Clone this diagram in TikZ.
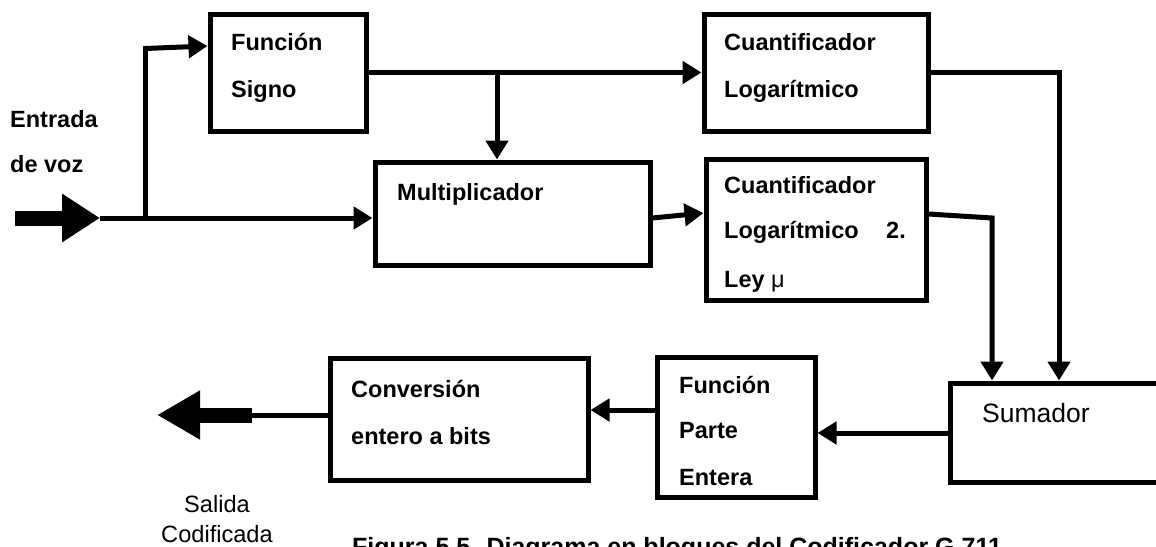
\documentclass[tikz,border=0pt]{standalone}
\usepackage{fontspec}
\setmainfont{Liberation Sans}
\usetikzlibrary{arrows.meta,calc}
\tikzset{
  box/.style={draw, line width=5pt, rectangle, inner sep=0pt},
  lbl/.style={anchor=base west, inner sep=0pt, font=\fontsize{23.5}{28}\selectfont\bfseries},
  plain/.style={anchor=base west, inner sep=0pt, font=\fontsize{26.5}{30}\selectfont},
  wire/.style={line width=5pt},
  arr/.style={wire, -{Triangle[length=19pt,width=22pt]}},
}
\begin{document}
\begin{tikzpicture}[x=1pt,y=-1pt]
\useasboundingbox (0,0) rectangle (1156,546);
\clip (0,0) rectangle (1156,546);
\fill[white] (0,0) rectangle (1156,546);

% blocks
\node[box, minimum width=156pt, minimum height=117pt] (fs)   at (288,72.5) {};
\node[box, minimum width=275pt, minimum height=103pt] (mult) at (512.5,213.5) {};
\node[box, minimum width=224pt, minimum height=117pt] (cl1)  at (816,72.5) {};
\node[box, minimum width=220pt, minimum height=141pt] (cl2)  at (816,229.5) {};
\node[box, minimum width=158pt, minimum height=140pt] (pe)   at (736,427) {};
\node[box, minimum width=220pt, minimum height=99pt]  (sum)  at (1060,432.5) {};
\node[box, minimum width=258pt, minimum height=122pt] (conv) at (459,419) {};

% block texts
\node[lbl] (tfs1) at (231,50) {Función};
\node[lbl] (tfs2) at (231,97) {Signo};
\node[lbl] (tm)   at (397,200) {Multiplicador};
\node[lbl] (tc11) at (724,50) {Cuantificador};
\node[lbl] (tc12) at (724,97) {Logarítmico};
\node[lbl] (tc21) at (724,193) {Cuantificador};
\node[lbl] (tc22) at (724,238) {Logarítmico};
\node[lbl] (tc2n) at (886,238) {2.};
\node[lbl] (tc23) at (724,287) {Ley \textmd{μ}};
\node[lbl] (tpe1) at (679,393) {Función};
\node[lbl] (tpe2) at (679,438) {Parte};
\node[lbl] (tpe3) at (679,485) {Entera};
\node[lbl] (tcv1) at (351,397) {Conversión};
\node[lbl] (tcv2) at (351,444) {entero a bits};
\node[plain] (tsum) at (982,422) {Sumador};

% input / output labels
\node[lbl] (tin1) at (10,127) {Entrada};
\node[lbl] (tin2) at (10,172) {de voz};
\node[anchor=base, inner sep=0pt, font=\fontsize{23.6}{28}\selectfont] (tout1) at (217,512) {Salida};
\node[anchor=base, inner sep=0pt, font=\fontsize{23.6}{28}\selectfont] (tout2) at (217,542) {Codificada};
\node[anchor=base west, inner sep=0pt, font=\fontsize{25}{30}\selectfont\bfseries] (cap) at (352,555)
  {Figura 5.5. Diagrama en bloques del Codificador G.711};

% input arrow and branches
\coordinate (inS) at (15,218);
\coordinate (in)  at (100,218);
\coordinate (j0)  at (145,218);
\coordinate (up)  at (145,46);
\draw[line width=15pt, -{Triangle[length=38pt,width=46pt]}] (inS) -- (in);
\draw[arr] (in) -- (in -| mult.west);
\draw[wire] (j0) -- (up);
\draw[arr] ($(up)+(0,2.5)$) -- (up -| fs.west);

% sign function to quantiser and multiplier
\coordinate (j1) at (497,72.5);
\draw[arr] (fs.east) -- (cl1.west);
\draw[arr] (j1) -- (j1 |- mult.north);

% multiplier to mu-law quantiser
\draw[arr] (mult.east |- 0,218) -- (cl2.west |- 0,213);

% quantisers to adder
\coordinate (k1) at (1059,72.5);
\draw[arr] (cl1.east) -- (k1) -- (k1 |- sum.north);
\coordinate (k2) at (992,218);
\draw[arr] (cl2.east |- 0,214) -- (k2) -- (k2 |- sum.north);

% adder -> integer part -> conversion
\draw[arr] (sum.west |- 0,433) -- (pe.east |- 0,433);
\draw[arr] (pe.west |- 0,410) -- (conv.east |- 0,410);

% output arrow
\coordinate (oS) at (252,415);
\coordinate (oE) at (157,415);
\draw[wire] (conv.west |- oS) -- ($(oS)+(-2,0)$);
\draw[line width=15pt, -{Triangle[length=43pt,width=46pt]}] (oS) -- (oE);
\end{tikzpicture}
\end{document}
